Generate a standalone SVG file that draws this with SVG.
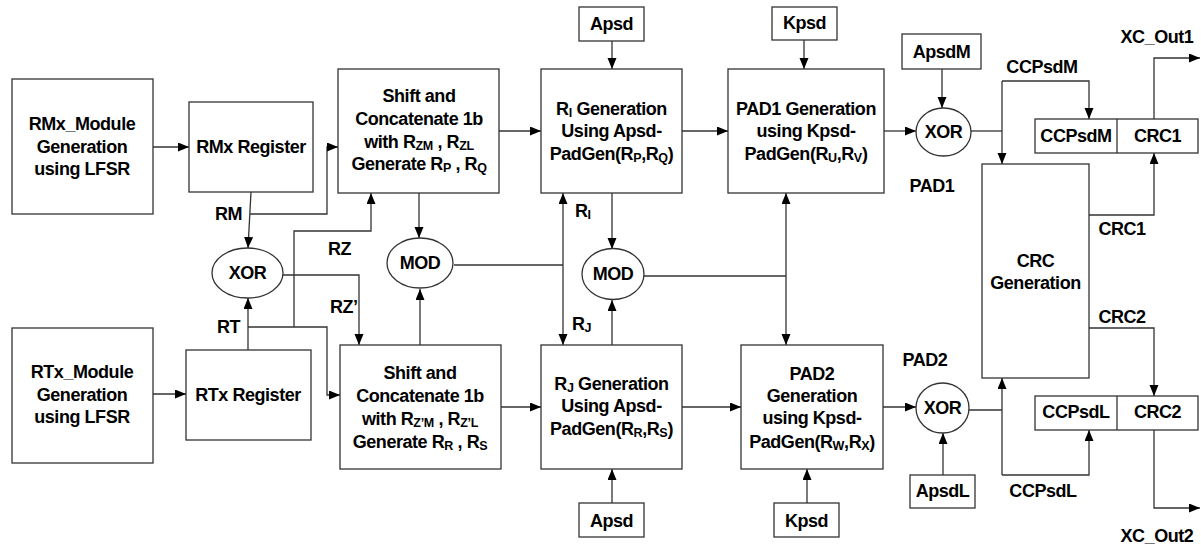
<svg xmlns="http://www.w3.org/2000/svg" width="1201" height="546" viewBox="0 0 1201 546">
<style>
text{font-family:"Liberation Sans",Arial,sans-serif;font-weight:bold;font-size:18px;letter-spacing:-0.45px;fill:#000;text-anchor:middle}
.l{text-anchor:start}
.s{font-size:12.5px;letter-spacing:-0.3px}
.box{fill:#fff;stroke:#333;stroke-width:1.3}
.c{fill:none;stroke:#333;stroke-width:1.3}
</style>
<defs>
<marker id="a" markerUnits="userSpaceOnUse" markerWidth="12" markerHeight="10" refX="11" refY="4.5" orient="auto-start-reverse">
<path d="M0,0 L11,4.5 L0,9 z" fill="#000"/>
</marker>
</defs>
<g id="connectors">
<path class="c" d="M153,147 H189" marker-end="url(#a)"/>
<path class="c" d="M153,394 H186" marker-end="url(#a)"/>
<path class="c" d="M251,192 L248,248" marker-end="url(#a)"/>
<path class="c" d="M250,214 H327 V147 H338" marker-end="url(#a)"/>
<path class="c" d="M248,350 V298" marker-end="url(#a)"/>
<path class="c" d="M248,327 H327 V395 H340" marker-end="url(#a)"/>
<path class="c" d="M294,327 V231 H371 V193" marker-end="url(#a)"/>
<path class="c" d="M283,275 H359 V345" marker-end="url(#a)"/>
<path class="c" d="M499,131 H541" marker-end="url(#a)"/>
<path class="c" d="M501,407 H541" marker-end="url(#a)"/>
<path class="c" d="M419,193 V238" marker-end="url(#a)"/>
<path class="c" d="M420,345 V289" marker-end="url(#a)"/>
<path class="c" d="M454,265 H563"/>
<path class="c" d="M563,193 V345" marker-start="url(#a)" marker-end="url(#a)"/>
<path class="c" d="M612,41 V69" marker-end="url(#a)"/>
<path class="c" d="M612,193 V249" marker-end="url(#a)"/>
<path class="c" d="M612,345 V300" marker-end="url(#a)"/>
<path class="c" d="M612,503 V469" marker-end="url(#a)"/>
<path class="c" d="M682,131 H728" marker-end="url(#a)"/>
<path class="c" d="M682,407 H741" marker-end="url(#a)"/>
<path class="c" d="M644,276 H786"/>
<path class="c" d="M786,193 V345" marker-start="url(#a)" marker-end="url(#a)"/>
<path class="c" d="M804,40 V69" marker-end="url(#a)"/>
<path class="c" d="M807,503 V469" marker-end="url(#a)"/>
<path class="c" d="M884,131 H916" marker-end="url(#a)"/>
<path class="c" d="M942,69 V108" marker-end="url(#a)"/>
<path class="c" d="M883,407 H916" marker-end="url(#a)"/>
<path class="c" d="M943,475 V433" marker-end="url(#a)"/>
<path class="c" d="M971,131 H1002"/>
<path class="c" d="M1002,81 V164" marker-end="url(#a)"/>
<path class="c" d="M1002,81 H1089 V119" marker-end="url(#a)"/>
<path class="c" d="M969,410 H1002"/>
<path class="c" d="M1002,475 V378" marker-end="url(#a)"/>
<path class="c" d="M1002,475 H1089 V430" marker-end="url(#a)"/>
<path class="c" d="M1089,215 H1154 V153" marker-end="url(#a)"/>
<path class="c" d="M1089,328 H1154 V396" marker-end="url(#a)"/>
<path class="c" d="M1154,119 V58 H1200" marker-end="url(#a)"/>
<path class="c" d="M1154,430 V508 H1200" marker-end="url(#a)"/>
</g>
<g id="labels">
<text class="l" x="215" y="220">RM</text>
<text class="l" x="217" y="333">RT</text>
<text class="l" x="328" y="255">RZ</text>
<text class="l" x="330" y="313">RZ’</text>
<text class="l" x="575" y="217">R<tspan class="s" dy="2">I</tspan></text>
<text class="l" x="572" y="330">R<tspan class="s" dy="2">J</tspan></text>
<text x="932" y="192">PAD1</text>
<text x="925" y="366">PAD2</text>
<text x="1042" y="73">CCPsdM</text>
<text x="1122" y="235">CRC1</text>
<text x="1122" y="323">CRC2</text>
<text x="1043" y="497">CCPsdL</text>
<text x="1157" y="43">XC_Out1</text>
<text x="1157" y="542">XC_Out2</text>
</g>
<g id="rmx-module"><rect class="box" x="12" y="79" width="141" height="135"/>
<text x="82" y="130">RMx_Module</text><text x="82" y="153">Generation</text><text x="82" y="175">using LFSR</text></g>
<g id="rtx-module"><rect class="box" x="12" y="328" width="141" height="135"/>
<text x="82" y="378">RTx_Module</text><text x="82" y="401">Generation</text><text x="82" y="423">using LFSR</text></g>
<g id="rmx-register"><rect class="box" x="189" y="102" width="124" height="90"/><text x="251" y="153">RMx Register</text></g>
<g id="rtx-register"><rect class="box" x="186" y="350" width="125" height="90"/><text x="248" y="401">RTx Register</text></g>
<g id="xor-left"><ellipse class="box" cx="247.5" cy="273" rx="35.5" ry="25"/><text x="247.5" y="279">XOR</text></g>
<g id="shift1"><rect class="box" x="338" y="69" width="161" height="124"/>
<text x="419" y="102">Shift and</text><text x="419" y="125">Concatenate 1b</text>
<text x="419" y="148">with R<tspan class="s" dy="2">ZM</tspan><tspan dy="-2"> , R</tspan><tspan class="s" dy="2">ZL</tspan></text>
<text x="419" y="170">Generate R<tspan class="s" dy="2">P</tspan><tspan dy="-2"> , R</tspan><tspan class="s" dy="2">Q</tspan></text></g>
<g id="shift2"><rect class="box" x="340" y="345" width="161" height="124"/>
<text x="420" y="379">Shift and</text><text x="420" y="402">Concatenate 1b</text>
<text x="420" y="425">with R<tspan class="s" dy="2">Z’M</tspan><tspan dy="-2"> , R</tspan><tspan class="s" dy="2">Z’L</tspan></text>
<text x="420" y="448">Generate R<tspan class="s" dy="2">R</tspan><tspan dy="-2"> , R</tspan><tspan class="s" dy="2">S</tspan></text></g>
<g id="mod1"><ellipse class="box" cx="420" cy="263" rx="33" ry="25"/><text x="420" y="269">MOD</text></g>
<g id="mod2"><ellipse class="box" cx="613" cy="274" rx="31" ry="25.5"/><text x="613" y="280">MOD</text></g>
<g id="apsd-top"><rect class="box" x="579" y="7" width="65" height="34"/><text x="611.5" y="30">Apsd</text></g>
<g id="apsd-bottom"><rect class="box" x="579" y="503" width="65" height="34"/><text x="611.5" y="527">Apsd</text></g>
<g id="ri-gen"><rect class="box" x="541" y="69" width="141" height="124"/>
<text x="611.5" y="115">R<tspan class="s" dy="2">I</tspan><tspan dy="-2"> Generation</tspan></text>
<text x="611.5" y="137">Using Apsd-</text>
<text x="611.5" y="160">PadGen(R<tspan class="s" dy="2">P</tspan><tspan dy="-2">,R</tspan><tspan class="s" dy="2">Q</tspan><tspan dy="-2">)</tspan></text></g>
<g id="rj-gen"><rect class="box" x="541" y="345" width="141" height="124"/>
<text x="611.5" y="390">R<tspan class="s" dy="2">J</tspan><tspan dy="-2"> Generation</tspan></text>
<text x="611.5" y="412">Using Apsd-</text>
<text x="611.5" y="435">PadGen(R<tspan class="s" dy="2">R</tspan><tspan dy="-2">,R</tspan><tspan class="s" dy="2">S</tspan><tspan dy="-2">)</tspan></text></g>
<g id="kpsd-top"><rect class="box" x="772" y="7" width="65" height="33"/><text x="804.5" y="29">Kpsd</text></g>
<g id="kpsd-bottom"><rect class="box" x="774" y="503" width="65" height="34"/><text x="806.5" y="527">Kpsd</text></g>
<g id="pad1-gen"><rect class="box" x="728" y="69" width="156" height="124"/>
<text x="806" y="115">PAD1 Generation</text><text x="806" y="137">using Kpsd-</text>
<text x="806" y="160">PadGen(R<tspan class="s" dy="2">U</tspan><tspan dy="-2">,R</tspan><tspan class="s" dy="2">V</tspan><tspan dy="-2">)</tspan></text></g>
<g id="pad2-gen"><rect class="box" x="741" y="345" width="142" height="124"/>
<text x="812" y="380">PAD2</text><text x="812" y="402">Generation</text><text x="812" y="424">using Kpsd-</text>
<text x="812" y="448">PadGen(R<tspan class="s" dy="2">W</tspan><tspan dy="-2">,R</tspan><tspan class="s" dy="2">X</tspan><tspan dy="-2">)</tspan></text></g>
<g id="apsdm"><rect class="box" x="902" y="34" width="79" height="35"/><text x="941.5" y="58">ApsdM</text></g>
<g id="apsdl"><rect class="box" x="910" y="475" width="65" height="33"/><text x="942.5" y="497">ApsdL</text></g>
<g id="xor1"><ellipse class="box" cx="943.5" cy="132" rx="27.5" ry="24"/><text x="943.5" y="138">XOR</text></g>
<g id="xor2"><ellipse class="box" cx="942.5" cy="408" rx="26.5" ry="25"/><text x="942.5" y="414">XOR</text></g>
<g id="crc-gen"><rect class="box" x="982" y="164" width="107" height="214"/>
<text x="1035.5" y="267">CRC</text><text x="1035.5" y="289">Generation</text></g>
<g id="cell1"><rect class="box" x="1035" y="119" width="163" height="34"/><path class="c" d="M1117,119 V153"/>
<text x="1076" y="142">CCPsdM</text><text x="1157.5" y="142">CRC1</text></g>
<g id="cell2"><rect class="box" x="1035" y="396" width="163" height="34"/><path class="c" d="M1117,396 V430"/>
<text x="1076" y="418">CCPsdL</text><text x="1157.5" y="418">CRC2</text></g>
</svg>
